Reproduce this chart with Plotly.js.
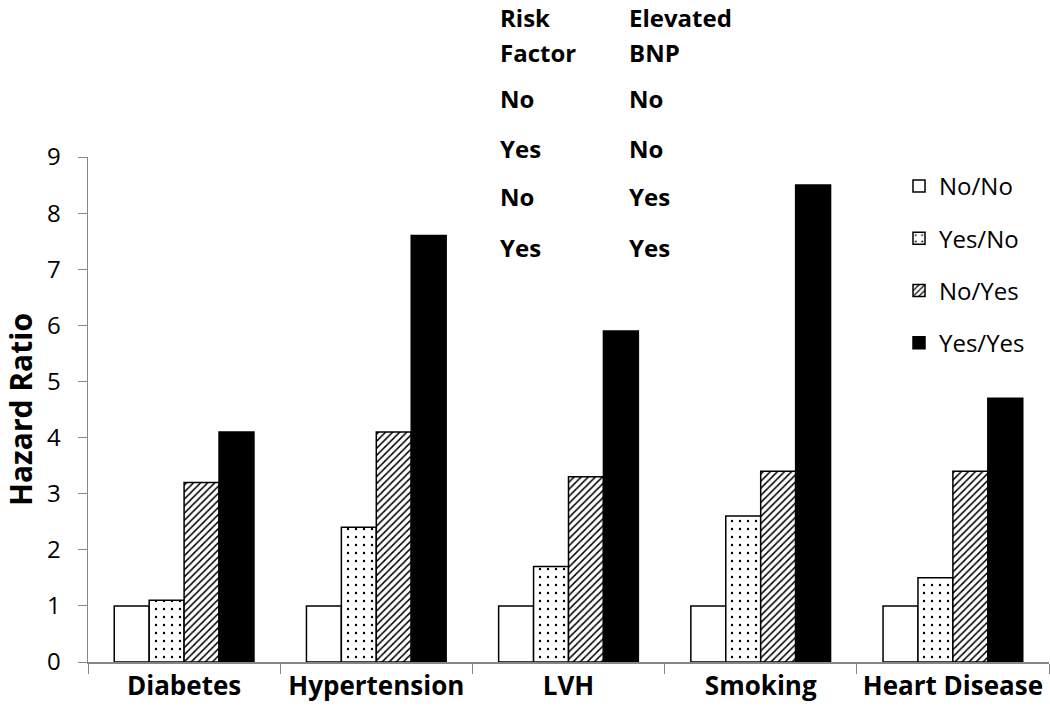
<!DOCTYPE html>
<html>
<head>
<meta charset="utf-8">
<script src="https://cdn.plot.ly/plotly-3.0.1.min.js"></script>
<style>
  html, body { margin: 0; padding: 0; background: #fff; }
  #chart { width: 1050px; height: 722px; }
</style>
</head>
<body>
<div id="chart"></div>
<script>
// categories and series
const categories = ['Diabetes', 'Hypertension', 'LVH', 'Smoking', 'Heart Disease'];
const seriesNames = ['No/No', 'Yes/No', 'No/Yes', 'Yes/Yes'];
const noNo = [1, 1, 1, 1, 1];
const yesNo = [1.1, 2.4, 1.7, 2.6, 1.5];
const noYes = [3.2, 4.1, 3.3, 3.4, 3.4];
const yesYes = [4.1, 7.6, 5.9, 8.5, 4.7];

// key table shown above the plot
const tableHeadLeft = ['Risk', 'Factor'];
const tableHeadRight = ['Elevated', 'BNP'];
const tableRiskFactor = ['No', 'Yes', 'No', 'Yes'];
const tableBnp = ['No', 'No', 'Yes', 'Yes'];

const FONT = '"Open Sans", "Noto Sans", sans-serif';
const AXIS_GREY = '#868686';

// plot area in pixels
const M = { l: 88, r: 1, t: 157, b: 60 };
const plotW = 1050 - M.l - M.r;
const plotH = 722 - M.t - M.b;
const px = x => (x - M.l) / plotW;
const py = y => (722 - M.b - y) / plotH;

const styles = [
  { color: '#fff', pattern: { shape: '' } },
  { color: '#fff', pattern: { shape: '.', fgcolor: '#000', bgcolor: '#fff', size: 8, solidity: 0.07 } },
  { color: '#fff', pattern: { shape: '/', fgcolor: '#000', bgcolor: '#fff', size: 5, solidity: 0.3 } },
  { color: '#000', pattern: { shape: '' } }
];

const values = [noNo, yesNo, noYes, yesYes];
const traces = values.map((v, i) => ({
  type: 'bar',
  name: seriesNames[i],
  legendgroup: 'g' + i,
  x: categories,
  y: v,
  marker: {
    color: styles[i].color,
    pattern: styles[i].pattern,
    line: { color: '#000', width: 1.5 }
  },
  hoverinfo: 'x+y+name'
}));

const annotations = [];
const headRows = [17, 52];
const bodyRows = [99, 148, 197, 247];
function addCell(text, xPix, yPix) {
  annotations.push({
    text: '<b>' + text + '</b>',
    xref: 'paper', yref: 'paper',
    x: px(xPix), y: py(yPix),
    xanchor: 'left', yanchor: 'middle',
    showarrow: false,
    font: { family: FONT, size: 24, color: '#000' }
  });
}
tableHeadLeft.forEach((t, i) => addCell(t, 498, headRows[i]));
tableHeadRight.forEach((t, i) => addCell(t, 627, headRows[i]));
tableRiskFactor.forEach((t, i) => addCell(t, 498, bodyRows[i]));
tableBnp.forEach((t, i) => addCell(t, 627, bodyRows[i]));

const layout = {
  width: 1050,
  height: 722,
  margin: M,
  paper_bgcolor: '#fff',
  plot_bgcolor: '#fff',
  barmode: 'group',
  bargap: 0.273,
  bargroupgap: 0,
  font: { family: FONT, color: '#000' },
  showlegend: true,
  legend: {
    x: px(899), y: py(164),
    xanchor: 'left', yanchor: 'top',
    font: { family: FONT, size: 24, color: '#000' },
    tracegroupgap: 18,
    traceorder: 'grouped',
    itemwidth: 30,
    bgcolor: 'rgba(0,0,0,0)'
  },
  xaxis: {
    type: 'category',
    showline: true,
    linecolor: AXIS_GREY,
    linewidth: 1.5,
    ticks: 'outside',
    tickson: 'boundaries',
    ticklen: 10,
    tickcolor: AXIS_GREY,
    tickangle: 0,
    tickfont: { family: FONT, size: 26, color: '#000', weight: 'bold' },
    showgrid: false,
    zeroline: false,
    fixedrange: true
  },
  yaxis: {
    range: [0, 9],
    dtick: 1,
    showline: true,
    linecolor: AXIS_GREY,
    linewidth: 1.5,
    ticks: 'outside',
    ticklen: 9,
    tickcolor: AXIS_GREY,
    ticklabelstandoff: 12,
    tickfont: { family: FONT, size: 24, color: '#000' },
    showgrid: false,
    zeroline: false,
    title: {
      text: '<b>Hazard Ratio</b>',
      font: { family: FONT, size: 30, color: '#000' },
      standoff: 8
    },
    fixedrange: true
  },
  annotations: annotations
};

Plotly.newPlot('chart', traces, layout, { displayModeBar: false, staticPlot: true });
</script>
</body>
</html>
